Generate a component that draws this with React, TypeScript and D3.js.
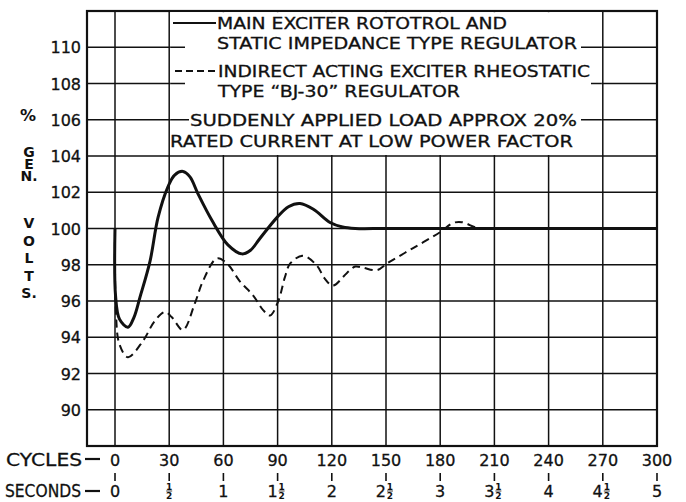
import * as d3 from "d3";

// values (cycles after load applied, % gen. volts)
const solidCycles = [0, 0.3, 2.5, 7.2, 10.5, 13.8, 19.4, 23.8, 29.3, 33, 37.6, 41.5, 46, 53.7, 62.5, 70.3, 75, 80.2, 89.6, 96, 102.4, 110, 119, 126, 133, 150, 200, 250, 300];
const solidVolts = [100, 96.3, 95.0, 94.55, 95.1, 96.2, 98.2, 100.6, 102.3, 102.95, 103.15, 102.85, 101.9, 100.44, 99.1, 98.6, 98.8, 99.45, 100.6, 101.2, 101.38, 101.05, 100.33, 100.08, 100, 100, 100, 100, 100];

const dashedCycles = [0, 0.5, 2.5, 7.2, 15.5, 22, 27.7, 31.5, 37.6, 44.3, 48.7, 56.4, 62, 69, 76.5, 82, 85.8, 90.4, 94, 97, 104, 111.8, 116, 120.6, 128.4, 133, 137, 145, 151, 165, 180, 187, 192, 200, 205];
const dashedVolts = [100, 95.4, 93.6, 92.9, 93.8, 94.9, 95.4, 95.1, 94.4, 95.9, 97.1, 98.35, 98.07, 97.1, 96.3, 95.5, 95.2, 96.0, 97.3, 98.07, 98.5, 97.95, 97.25, 96.85, 97.55, 97.9, 97.85, 97.7, 98.1, 98.92, 99.8, 100.3, 100.35, 100.05, 100];

const voltTicks = [90, 92, 94, 96, 98, 100, 102, 104, 106, 108, 110];
const cycleTicks = [0, 30, 60, 90, 120, 150, 180, 210, 240, 270, 300];
const cycleLabels = ["0", "30", "60", "90", "120", "150", "180", "210", "240", "270", "300"];
const secondsTicks = [0, 0.5, 1, 1.5, 2, 2.5, 3, 3.5, 4, 4.5, 5];

const legendSolid = ["MAIN EXCITER ROTOTROL AND", "STATIC IMPEDANCE TYPE REGULATOR"];
const legendDashed = ["INDIRECT ACTING EXCITER RHEOSTATIC", "TYPE \u201CBJ-30\u201D REGULATOR"];
const legendNote = ["SUDDENLY APPLIED LOAD APPROX 20%", "RATED CURRENT AT LOW POWER FACTOR"];
const yTitleTop = ["G", "E", "N."];
const yTitleBottom = ["V", "O", "L", "T", "S."];

const W = 686;
const H = 502;
const FONT = "'DejaVu Sans', sans-serif";

export default function App() {
  const x = d3.scaleLinear().domain([-15.5, 300]).range([87, 657]);
  const y = d3.scaleLinear().domain([88, 112]).range([446, 11]);
  const sec = (s: number) => x(s * 60);

  const line = d3
    .line<number>()
    .x((c) => x(c))
    .curve(d3.curveCatmullRom.alpha(0.5));

  const solidPath = line.y((_, i) => y(solidVolts[i]))(solidCycles) ?? "";
  const dashedPath = line.y((_, i) => y(dashedVolts[i]))(dashedCycles) ?? "";

  const [x0, x1] = x.range();
  const [yb, yt] = y.range();

  // legend box spans the 30 .. 270 cycle gridlines, down to the 104 line
  const boxL = x(30) + 1;
  const boxR = x(270) - 1;
  const boxB = y(104) - 1;

  return (
    <svg width={W} height={H} style={{ position: "absolute", left: 0, top: 0, background: "#fff" }} fontFamily={FONT}>
      <rect width={W} height={H} fill="#fff" />

      {/* grid */}
      <g stroke="#111" strokeWidth={1.5}>
        {voltTicks.map((v) => (
          <line key={"h" + v} x1={x0} x2={x1} y1={y(v)} y2={y(v)} />
        ))}
        {cycleTicks.slice(0, -1).map((c) => (
          <line key={"v" + c} x1={x(c)} x2={x(c)} y1={yt} y2={yb} />
        ))}
      </g>
      <rect x={x0} y={yt} width={x1 - x0} height={yb - yt} fill="none" stroke="#111" strokeWidth={2.2} />

      {/* legend box */}
      <rect x={boxL} y={yt + 1.2} width={boxR - boxL} height={boxB - yt - 1.2} fill="#fff" />
      <g stroke="#111" strokeWidth={1.5}>
        {[106, 108, 110].map((v) => (
          <line key={"lg" + v} x1={boxL} x2={boxR} y1={y(v)} y2={y(v)} />
        ))}
      </g>
      <g fill="#fff">
        <rect x={185} y={14} width={396} height={38} />
        <rect x={185} y={62} width={406} height={38} />
        <rect x={189} y={110} width={392} height={20} />
      </g>
      <line x1={173} x2={216} y1={23} y2={23} stroke="#111" strokeWidth={2.2} />
      <line x1={175} x2={217} y1={71} y2={71} stroke="#111" strokeWidth={2.2} strokeDasharray="7 4" />
      <g fill="#111" stroke="#111" strokeWidth={0.3} fontSize={15}>
        <text x={217} y={29} textLength={290} lengthAdjust="spacingAndGlyphs">{legendSolid[0]}</text>
        <text x={217} y={48.5} textLength={360} lengthAdjust="spacingAndGlyphs">{legendSolid[1]}</text>
        <text x={218} y={77} textLength={372} lengthAdjust="spacingAndGlyphs">{legendDashed[0]}</text>
        <text x={218} y={97} textLength={242} lengthAdjust="spacingAndGlyphs">{legendDashed[1]}</text>
        <text x={190} y={126} textLength={387} lengthAdjust="spacingAndGlyphs">{legendNote[0]}</text>
        <text x={170} y={146.5} textLength={403} lengthAdjust="spacingAndGlyphs">{legendNote[1]}</text>
      </g>

      {/* curves */}
      <path d={solidPath} fill="none" stroke="#111" strokeWidth={3} strokeLinejoin="round" />
      <path d={dashedPath} fill="none" stroke="#111" strokeWidth={2} strokeDasharray="8 5" />

      {/* y axis */}
      <g fill="#111" stroke="#111" strokeWidth={0.3} fontSize={16} textAnchor="end">
        {voltTicks.map((v) => (
          <text key={"yl" + v} x={81} y={y(v) + 6}>{v}</text>
        ))}
      </g>
      <g fill="#111" fontWeight="bold" textAnchor="middle">
        <text x={28} y={121} fontSize={16}>%</text>
        <text fontSize={14}>
          {yTitleTop.map((t, i) => (
            <tspan key={"gt" + i} x={29} y={157 + i * 11.8}>{t}</tspan>
          ))}
        </text>
        <text fontSize={14}>
          {yTitleBottom.map((t, i) => (
            <tspan key={"gb" + i} x={29} y={228 + i * 17.5}>{t}</tspan>
          ))}
        </text>
      </g>

      {/* x axis: cycles and seconds */}
      <g fill="#111" stroke="#111" strokeWidth={0.3} fontSize={17}>
        <text x={6} y={466} textLength={76} lengthAdjust="spacingAndGlyphs">CYCLES</text>
        <text x={5} y={497} textLength={76} lengthAdjust="spacingAndGlyphs">SECONDS</text>
      </g>
      <g stroke="#111" strokeWidth={2.2}>
        <line x1={85} x2={100} y1={459} y2={459} />
        <line x1={85} x2={100} y1={491} y2={491} />
      </g>
      <g fill="#111" stroke="#111" strokeWidth={0.3} fontSize={16} textAnchor="middle">
        {cycleTicks.map((c, i) => (
          <text key={"cl" + c} x={x(c)} y={466}>{cycleLabels[i]}</text>
        ))}
      </g>
      <g stroke="#111" strokeWidth={1.6}>
        {cycleTicks.map((c) => (
          <line key={"tk" + c} x1={x(c)} x2={x(c)} y1={473} y2={481} />
        ))}
      </g>
      <g fill="#111">
        {secondsTicks.map((s) => {
          const whole = Math.floor(s);
          const half = s % 1 !== 0;
          const cx = sec(s);
          if (!half) {
            return (
              <text key={"s" + s} x={cx} y={497} fontSize={16} stroke="#111" strokeWidth={0.3} textAnchor="middle">{whole}</text>
            );
          }
          const fx = whole > 0 ? cx + 4 : cx;
          return (
            <g key={"s" + s}>
              {whole > 0 && (
                <text x={cx} y={497} fontSize={16} stroke="#111" strokeWidth={0.3} textAnchor="end">{whole}</text>
              )}
              <text x={fx} y={489.5} fontSize={9} fontWeight="bold" textAnchor="middle">1</text>
              <line x1={fx - 3} x2={fx + 3} y1={491} y2={491} stroke="#111" strokeWidth={0.8} />
              <text x={fx} y={499} fontSize={9} fontWeight="bold" textAnchor="middle">2</text>
            </g>
          );
        })}
      </g>
    </svg>
  );
}
